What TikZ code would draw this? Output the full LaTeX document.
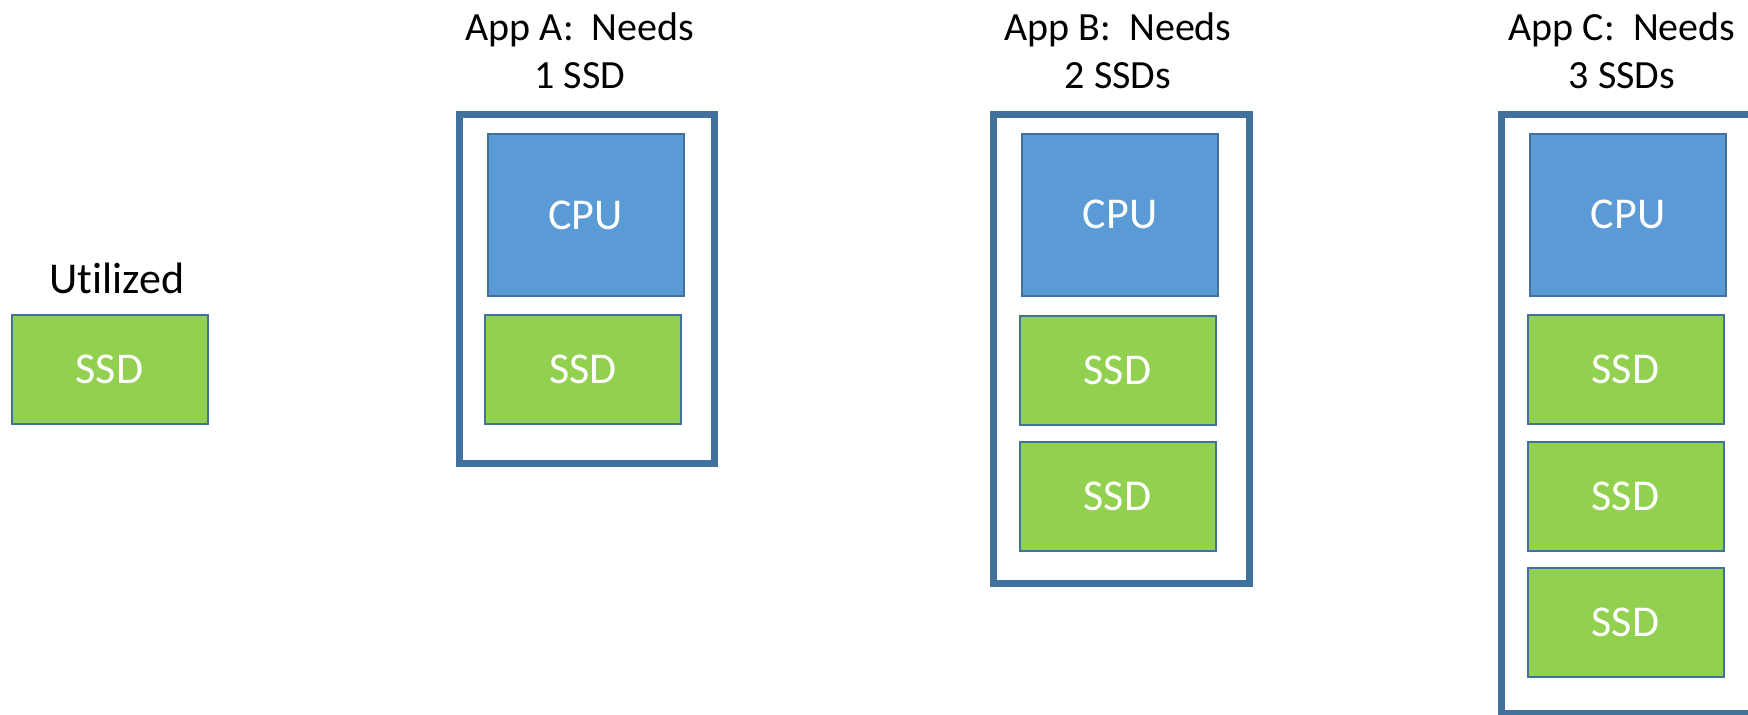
\documentclass[tikz,border=0pt]{standalone}
\usepackage{fontspec}
\setmainfont[Ligatures=NoCommon]{Carlito}
\definecolor{cpufill}{HTML}{5B9BD5}
\definecolor{ssdfill}{HTML}{92D050}
\definecolor{edge}{HTML}{41719C}
\tikzset{
  part/.style={draw=edge, line width=1pt, text=white, font=\fontsize{22}{26}\selectfont,
               inner sep=0pt, minimum width=98pt},
  cpubox/.style={part, fill=cpufill, minimum height=81pt},
  ssdbox/.style={part, fill=ssdfill, minimum height=54.5pt},
  server/.style={draw=edge, line width=3.6pt, fill=white, inner sep=0pt, minimum width=127.4pt},
  title/.style={anchor=base, align=center, inner sep=0pt, font=\fontsize{20}{24}\selectfont},
}
\begin{document}
\begin{tikzpicture}[x=0.5pt, y=-0.5pt]
  \clip (0,0) rectangle (1748,714);
  \fill[white] (0,0) rectangle (1748,714);

  % stand-alone utilized drive
  \node[title, font=\fontsize{22}{26}\selectfont] (utl) at (117,293) {Utilized};
  \node[ssdbox] (ssd0) at (109.5,369.5) {SSD};

  % App A: one drive (base anchor sits on the second line)
  \node[title] (ta) at (580,88) {App A:~~Needs\\1 SSD};
  \node[server, minimum height=174.4pt] (fa) at (587,289) {};
  \node[cpubox] (cpua) at (585.5,215) {CPU};
  \node[ssdbox] (ssda1) at (583,369.5) {SSD};

  % App B: two drives
  \node[title] (tb) at (1118,88) {App B:~~Needs\\2 SSDs};
  \node[server, minimum width=127.9pt, minimum height=234.4pt] (fb) at (1121.5,349) {};
  \node[cpubox] (cpub) at (1120,214.5) {CPU};
  \node[ssdbox] (ssdb1) at (1117.5,370) {SSD};
  \node[ssdbox] (ssdb2) at (1117.5,496) {SSD};

  % App C: three drives
  \node[title] (tc) at (1622,88) {App C:~~Needs\\3 SSDs};
  \node[server, minimum height=299.4pt] (fc) at (1629,414) {};
  \node[cpubox] (cpuc) at (1628,214.5) {CPU};
  \node[ssdbox] (ssdc1) at (1625.5,369) {SSD};
  \node[ssdbox] (ssdc2) at (1625.5,496) {SSD};
  \node[ssdbox] (ssdc3) at (1625.5,622) {SSD};
\end{tikzpicture}
\end{document}
